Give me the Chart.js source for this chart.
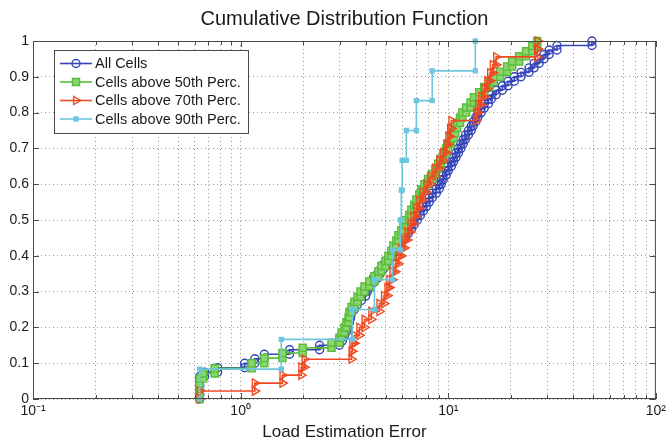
<!DOCTYPE html>
<html>
<head>
<meta charset="utf-8">
<script src="https://cdn.jsdelivr.net/npm/chart.js@4.4.1/dist/chart.umd.min.js"></script>
<style>
  html, body { margin: 0; padding: 0; background: #fff; }
  canvas { display: block; }
</style>
</head>
<body>
<canvas id="cdfChart" width="670" height="445"></canvas>
<script>
// load estimation error of each cell, sorted
const errAllCells = [
  0.635, 0.635, 0.635, 0.635, 0.635, 0.67, 0.775, 1.045, 1.17, 1.30,
  1.72, 2.4, 2.99, 3.09, 3.16, 3.23, 3.30, 3.34, 3.38, 3.42,
  3.53, 3.65, 3.82, 4.0, 4.08, 4.22, 4.36, 4.56, 4.71, 4.87,
  5.03, 5.20, 5.38, 5.56, 5.75, 5.94, 6.21, 6.42, 6.64, 6.86,
  7.10, 7.34, 7.58, 7.84, 8.10, 8.38, 8.76, 9.05, 9.26, 9.46,
  9.78, 10.0, 10.35, 10.6, 10.9, 11.2, 11.5, 11.8, 12.1, 12.5,
  12.9, 13.2, 13.6, 13.9, 14.4, 14.9, 15.6, 16.1, 17.0, 18.2,
  19.4, 20.8, 22.4, 24.5, 25.9, 27.4, 28.9, 30.6, 33.4, 49.2
];
const errAbove50 = [
  0.635, 0.635, 0.635, 0.635, 0.66, 0.75, 1.13, 1.30, 1.59, 1.99,
  2.74, 2.99, 3.06, 3.16, 3.23, 3.31, 3.34, 3.42, 3.53, 3.65,
  3.78, 3.95, 4.17, 4.41, 4.61, 4.76, 4.98, 5.15, 5.32, 5.44,
  5.62, 5.75, 5.94, 6.08, 6.28, 6.49, 6.64, 6.86, 7.02, 7.25,
  7.42, 7.67, 8.0, 8.38, 8.66, 8.95, 9.2, 9.46, 9.78, 10.0,
  10.3, 10.6, 10.8, 11.05, 11.4, 11.7, 12.2, 12.8, 13.3, 14.1,
  14.9, 15.8, 16.6, 17.8, 19.2, 20.3, 21.95, 23.7, 25.4, 26.8
];
const errAbove70 = [
  0.635, 1.17, 1.59, 1.96, 2.03, 3.42, 3.45, 3.53, 3.73, 3.95,
  4.26, 4.66, 4.9, 5.09, 5.2, 5.38, 5.56, 5.75, 5.94, 6.14,
  6.35, 6.57, 6.79, 7.02, 7.25, 7.5, 7.84, 8.19, 8.66, 9.05,
  9.46, 9.78, 10.0, 10.2, 10.35, 13.6, 13.9, 14.4, 14.9, 15.4,
  15.9, 16.4, 17.0, 26.8, 27.0
];
const errAbove90 = [0.635, 1.57, 3.45, 4.41, 5.38, 5.88, 5.94, 6.0, 6.28, 7.02, 8.37, 13.5];

const seriesLabels = ['All Cells', 'Cells above 50th Perc.', 'Cells above 70th Perc.', 'Cells above 90th Perc.'];
const xMajorTicks = [0.1, 1, 10, 100];
const xTickLabels = ['10\u207B\u00B9', '10\u2070', '10\u00B9', '10\u00B2'];
const yTicks = [0, 0.1, 0.2, 0.3, 0.4, 0.5, 0.6, 0.7, 0.8, 0.9, 1];
const yTickLabels = ['0', '0.1', '0.2', '0.3', '0.4', '0.5', '0.6', '0.7', '0.8', '0.9', '1'];

const FONT = "'Liberation Sans', Arial, Helvetica, sans-serif";
Chart.defaults.font.family = FONT;
Chart.defaults.color = '#1a1a1a';

// empirical cdf as stairs, with a point at the foot and at the top of each riser
function cdfPoints(errors) {
  const n = errors.length;
  const pts = [{ x: errors[0], y: 0 }];
  errors.forEach((e, i) => {
    if (i > 0) pts.push({ x: e, y: i / n });
    pts.push({ x: e, y: (i + 1) / n });
  });
  return pts;
}

// grid positions 1..9 per decade
const xGridValues = [];
for (let d = 0; d < xMajorTicks.length; d++) {
  const dec = xMajorTicks[d];
  if (d === xMajorTicks.length - 1) { xGridValues.push(dec); break; }
  for (let m = 1; m < 10; m++) xGridValues.push(+(dec * m).toPrecision(6));
}

const styles = [
  { color: '#3545b8', pointStyle: 'circle', radius: 4, fill: 'rgba(0,0,0,0)', rotation: 0, order: 4 },
  { color: '#58bd3a', pointStyle: 'rect', radius: 5, fill: '#8bd66c', rotation: 0, order: 3 },
  { color: '#f04a22', pointStyle: 'triangle', radius: 4.8, fill: 'rgba(0,0,0,0)', rotation: 90, order: 2 },
  { color: '#6cc6de', pointStyle: 'rect', radius: 2.8, fill: '#6cc6de', rotation: 0, order: 1 }
];
const seriesData = [errAllCells, errAbove50, errAbove70, errAbove90];

const datasets = seriesData.map((errs, i) => ({
  label: seriesLabels[i],
  data: cdfPoints(errs),
  borderColor: styles[i].color,
  backgroundColor: styles[i].fill,
  borderWidth: 1.6,
  tension: 0,
  pointStyle: styles[i].pointStyle,
  pointRadius: styles[i].radius,
  pointRotation: styles[i].rotation,
  pointBorderColor: styles[i].color,
  pointBackgroundColor: styles[i].fill,
  pointBorderWidth: 1.4,
  order: styles[i].order,
  clip: 6
}));

function drawMarker(ctx, st, x, y) {
  ctx.save();
  ctx.strokeStyle = st.color;
  ctx.fillStyle = st.fill;
  ctx.lineWidth = 1.4;
  ctx.beginPath();
  if (st.pointStyle === 'circle') {
    ctx.arc(x, y, st.radius, 0, Math.PI * 2);
  } else if (st.pointStyle === 'rect') {
    const s = st.radius * Math.SQRT1_2;
    ctx.rect(x - s, y - s, 2 * s, 2 * s);
  } else {
    const r = st.radius;
    ctx.moveTo(x + r, y);
    ctx.lineTo(x - r * 0.5, y - r * 0.866);
    ctx.lineTo(x - r * 0.5, y + r * 0.866);
    ctx.closePath();
  }
  ctx.fill();
  ctx.stroke();
  ctx.restore();
}

const framePlugin = {
  id: 'frame',
  afterDraw(chart) {
    const ctx = chart.ctx;
    const a = chart.chartArea;
    const xs = chart.scales.x, ys = chart.scales.y;

    ctx.save();
    // title
    ctx.fillStyle = '#1a1a1a';
    ctx.font = '20px ' + FONT;
    ctx.textAlign = 'center';
    ctx.textBaseline = 'middle';
    ctx.fillText('Cumulative Distribution Function', (a.left + a.right) / 2, 19);

    // axes box and inward ticks
    ctx.strokeStyle = '#4a4a4a';
    ctx.lineWidth = 1;
    ctx.strokeRect(a.left + 0.5, a.top + 0.5, a.right - a.left - 1, a.bottom - a.top - 1);
    ctx.beginPath();
    xGridValues.forEach(v => {
      const px = Math.round(xs.getPixelForValue(v)) + 0.5;
      const len = xMajorTicks.includes(v) ? 6 : 4;
      ctx.moveTo(px, a.bottom); ctx.lineTo(px, a.bottom - len);
      ctx.moveTo(px, a.top); ctx.lineTo(px, a.top + len);
    });
    yTicks.forEach(v => {
      const py = Math.round(ys.getPixelForValue(v)) + 0.5;
      ctx.moveTo(a.left, py); ctx.lineTo(a.left + 6, py);
      ctx.moveTo(a.right, py); ctx.lineTo(a.right - 6, py);
    });
    ctx.stroke();

    // legend box
    const lx = a.left + 21, ly = a.top + 9, lw = 194, lh = 83;
    ctx.fillStyle = '#fff';
    ctx.fillRect(lx, ly, lw, lh);
    ctx.strokeStyle = '#4a4a4a';
    ctx.strokeRect(lx + 0.5, ly + 0.5, lw, lh);
    ctx.font = '14.5px ' + FONT;
    ctx.textAlign = 'left';
    ctx.textBaseline = 'middle';
    chart.data.datasets.forEach((ds, i) => {
      const yy = ly + 13.5 + i * 18.5;
      ctx.strokeStyle = styles[i].color;
      ctx.lineWidth = 1.6;
      ctx.beginPath();
      ctx.moveTo(lx + 6, yy); ctx.lineTo(lx + 38, yy);
      ctx.stroke();
      drawMarker(ctx, styles[i], lx + 22, yy);
      ctx.fillStyle = '#1a1a1a';
      ctx.fillText(ds.label, lx + 41, yy + 0.5);
    });
    ctx.restore();
  }
};

new Chart(document.getElementById('cdfChart'), {
  type: 'line',
  data: { datasets: datasets },
  options: {
    responsive: false,
    animation: false,
    devicePixelRatio: 1,
    layout: { padding: { top: 41, right: 12, left: 0, bottom: 0 } },
    plugins: {
      legend: { display: false },
      tooltip: { enabled: false },
      title: { display: false }
    },
    scales: {
      x: {
        type: 'logarithmic',
        min: 0.1,
        max: 100,
        afterBuildTicks: s => { s.ticks = xGridValues.map(v => ({ value: v })); },
        afterFit: s => { s.height = 46; },
        ticks: {
          autoSkip: false,
          maxRotation: 0,
          padding: 4,
          font: { size: 14 },
          color: '#1a1a1a',
          callback: v => {
            const i = xMajorTicks.indexOf(v);
            return i >= 0 ? xTickLabels[i] : '';
          }
        },
        grid: { color: '#9a9a9a', lineWidth: 1, drawTicks: false },
        border: { display: false, dash: [1, 3] },
        title: {
          display: true,
          text: 'Load Estimation Error',
          font: { size: 17 },
          color: '#1a1a1a',
          padding: { top: 0, bottom: 2 }
        }
      },
      y: {
        min: 0,
        max: 1,
        afterBuildTicks: s => { s.ticks = yTicks.map(v => ({ value: v })); },
        afterFit: s => { s.width = 33; },
        ticks: {
          padding: 4,
          font: { size: 14 },
          color: '#1a1a1a',
          callback: (v, i) => yTickLabels[i]
        },
        grid: { color: '#9a9a9a', lineWidth: 1, drawTicks: false },
        border: { display: false, dash: [1, 3] }
      }
    }
  },
  plugins: [framePlugin]
});
</script>
</body>
</html>
